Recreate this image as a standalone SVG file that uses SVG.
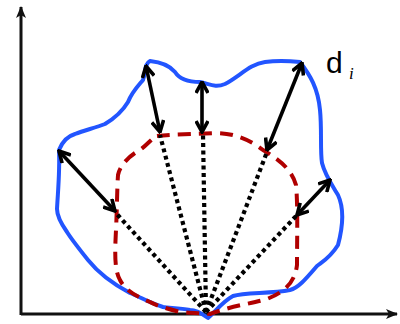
<svg xmlns="http://www.w3.org/2000/svg" width="400" height="324" viewBox="0 0 400 324">
<style>
.axis{stroke:#111;stroke-width:3;fill:none}
.outer{stroke:#2255ff;stroke-width:4;fill:none;stroke-linejoin:round;stroke-linecap:round}
.inner{stroke:#b00000;stroke-width:4;fill:none;stroke-dasharray:13 8}
.dot{stroke:#000;stroke-width:4.2;stroke-dasharray:4 3.5;fill:none}
.arr{stroke:#000;stroke-width:3.6;fill:none;marker-start:url(#ah);marker-end:url(#ah)}
</style>
<defs>
<marker id="ah" viewBox="0 0 14 14" refX="12.5" refY="7" markerWidth="14" markerHeight="14" markerUnits="userSpaceOnUse" orient="auto-start-reverse">
<polyline points="1.5,1 12.5,7 1.5,13" fill="none" stroke="#000" stroke-width="3.6" stroke-linejoin="miter"/>
</marker>
<marker id="ax" viewBox="0 0 12 12" refX="11" refY="6" markerWidth="12" markerHeight="12" markerUnits="userSpaceOnUse" orient="auto">
<path d="M0,1 L12,6 L0,11 L3,6 Z" fill="#111"/>
</marker>
</defs>
<g id="axes">
<line class="axis" x1="21" y1="315" x2="21" y2="7" marker-end="url(#ax)"/>
<line class="axis" x1="21" y1="314" x2="397" y2="314" marker-end="url(#ax)"/>
</g>
<g id="outer-boundary">
<path class="outer" d="M150,61 C160,62 170,66 175,72 C180,80 190,82 200,82 C210,84 215,88 225,84 C240,76 250,64 265,62 C280,60 290,61 300,62 C310,75 318,88 320,110 C322,130 320,150 322,163 C325,175 332,185 338,195 C345,210 342,230 338,245 C330,258 322,262 317,266 C305,280 298,288 290,290 C270,294 245,292 233,296 C222,302 215,312 208,318 C200,312 195,310 190,310 C180,308 170,308 163,307 C150,303 140,297 130,293 C115,285 100,275 88,260 C80,250 72,240 67,232 C60,222 57,215 57,209 C58,190 60,170 59,150 C63,140 68,136 75,134 C85,130 95,128 105,124 C115,118 122,112 128,102 C132,92 138,86 143,80 C146,72 144,64 150,61 Z"/>
</g>
<g id="inner-boundary">
<path class="inner" d="M157,136 C175,134 195,134 215,133 C235,133 250,140 263,150 C280,160 292,170 296,185 C298,205 297,240 297,265 C295,282 285,292 267,299 C250,304 235,305 210,314 C200,313 190,313 180,312 C165,308 155,305 150,302 C135,296 125,290 120,280 C114,270 115,250 116,230 C117,210 117,190 118,175 C120,165 130,155 140,150 C148,144 152,138 157,136 Z"/>
</g>
<g id="rays">
<line class="dot" x1="206" y1="312" x2="160" y2="135"/>
<line class="dot" x1="206" y1="312" x2="203" y2="134"/>
<line class="dot" x1="206" y1="312" x2="267" y2="152"/>
<line class="dot" x1="206" y1="312" x2="297" y2="215"/>
<line class="dot" x1="206" y1="312" x2="115" y2="212"/>
</g>
<g id="distances">
<line class="arr" x1="146" y1="66" x2="160" y2="132"/>
<line class="arr" x1="202" y1="82" x2="202" y2="132"/>
<line class="arr" x1="302" y1="63" x2="267" y2="150"/>
<line class="arr" x1="330" y1="180" x2="297" y2="215"/>
<line class="arr" x1="59" y1="151" x2="115" y2="211"/>
</g>
<g id="label">
<text x="326" y="73" font-family="Liberation Sans, Arial, sans-serif" font-size="30" fill="#000">d</text>
<text x="349" y="79" font-family="Liberation Serif, Times New Roman, serif" font-style="italic" font-size="17" fill="#000">i</text>
</g>
</svg>
